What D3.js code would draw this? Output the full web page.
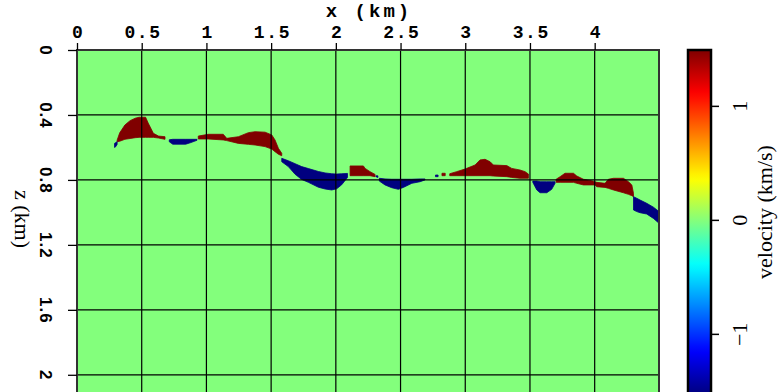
<!DOCTYPE html>
<html>
<head>
<meta charset="utf-8">
<script src="https://cdn.jsdelivr.net/npm/d3@7"></script>
<style>
  body { margin: 0; background: #fff; }
  svg { display: block; }
</style>
</head>
<body>
<div class="chart"></div>
<script>
// axis ticks (km) and colour bar ticks (km/s)
const xTicks = [0, 0.5, 1, 1.5, 2, 2.5, 3, 3.5, 4];
const zTicks = [0, 0.4, 0.8, 1.2, 1.6, 2];
const cbTicks = [-1, 0, 1];
const xRange = [0, 4.497];
const zRange = [0, 2.106];
const vRange = [-1.51, 1.49];
const background = 0;

// anomaly patches: [x, zTop, zBottom] in km
const patchA = [[0.31,0.555,0.565],[0.33,0.51,0.562],[0.37,0.462,0.55],[0.41,0.435,0.545],[0.45,0.42,0.54],[0.48,0.414,0.538],[0.53,0.414,0.538],[0.55,0.45,0.538],[0.59,0.513,0.538],[0.63,0.53,0.542],[0.68,0.534,0.55]];
const sliverA = [[0.29,0.575,0.60],[0.30,0.57,0.595],[0.31,0.565,0.58]];
const patchB = [[0.713,0.553,0.565],[0.74,0.55,0.58],[0.84,0.55,0.58],[0.88,0.55,0.57],[0.927,0.55,0.556]];
const patchC = [[0.937,0.53,0.548],[1.015,0.519,0.548],[1.13,0.519,0.554],[1.157,0.544,0.558],[1.247,0.534,0.575],[1.324,0.509,0.581],[1.376,0.503,0.585],[1.453,0.506,0.595],[1.505,0.523,0.61],[1.53,0.554,0.626],[1.556,0.605,0.642],[1.582,0.636,0.651]];
const patchD = [[1.582,0.667,0.688],[1.633,0.682,0.718],[1.685,0.7,0.765],[1.736,0.718,0.797],[1.788,0.73,0.815],[1.865,0.748,0.845],[1.917,0.757,0.856],[1.968,0.762,0.862],[2.006,0.764,0.855],[2.045,0.762,0.83],[2.09,0.76,0.785]];
const patchE = [[2.11,0.714,0.774],[2.213,0.714,0.774],[2.226,0.729,0.774],[2.264,0.749,0.774],[2.303,0.766,0.78]];
const dotE = [[2.31,0.775,0.78],[2.325,0.775,0.785]];
const patchF = [[2.336,0.79,0.807],[2.38,0.794,0.831],[2.432,0.796,0.848],[2.483,0.796,0.858],[2.522,0.796,0.846],[2.587,0.796,0.821],[2.651,0.794,0.811],[2.689,0.794,0.8]];
const dotF1 = [[2.77,0.77,0.78],[2.79,0.77,0.78]];
const dotF2 = [[2.82,0.759,0.774],[2.845,0.759,0.774]];
const patchG = [[2.88,0.762,0.774],[2.934,0.749,0.774],[2.998,0.733,0.774],[3.076,0.708,0.774],[3.114,0.677,0.774],[3.153,0.673,0.774],[3.192,0.688,0.774],[3.217,0.708,0.776],[3.321,0.712,0.78],[3.359,0.729,0.785],[3.423,0.739,0.79],[3.462,0.749,0.79],[3.488,0.764,0.79]];
const patchH = [[3.522,0.807,0.815],[3.553,0.807,0.862],[3.578,0.811,0.879],[3.63,0.811,0.879],[3.668,0.811,0.858],[3.694,0.811,0.821]];
const patchI = [[3.702,0.796,0.815],[3.733,0.78,0.815],[3.771,0.759,0.815],[3.836,0.759,0.815],[3.862,0.776,0.821],[3.913,0.796,0.831],[3.978,0.805,0.831],[4.003,0.811,0.831],[4.016,0.815,0.842],[4.08,0.821,0.846],[4.106,0.796,0.852],[4.145,0.79,0.862],[4.222,0.79,0.879],[4.261,0.811,0.889],[4.287,0.831,0.897],[4.3,0.883,0.903]];
const patchJ = [[4.3,0.903,0.985],[4.325,0.913,0.995],[4.351,0.924,1.002],[4.402,0.944,1.01],[4.454,0.968,1.037],[4.497,0.995,1.067]];

const patchList = [patchA, sliverA, patchB, patchC, patchD, patchE, dotE, patchF, dotF1, dotF2, patchG, patchH, patchI, patchJ];
const patchVel = [1.49, -1.51, -1.51, 1.49, -1.51, 1.49, -1.51, -1.51, -1.51, 1.49, 1.49, -1.51, 1.49, -1.51];

// jet colour map
function jet(t) {
  const c = v => Math.round(255 * Math.max(0, Math.min(1, v)));
  return d3.rgb(c(1.5 - Math.abs(4 * t - 3)), c(1.5 - Math.abs(4 * t - 2)), c(1.5 - Math.abs(4 * t - 1))).toString();
}

const W = 780, H = 392;
const margin = { top: 50, left: 77, right: 121, bottom: 0 };
const pw = W - margin.left - margin.right;
const ph = H - margin.top - margin.bottom;

const svg = d3.select('.chart').append('svg').attr('width', W).attr('height', H);

const x = d3.scaleLinear().domain(xRange).range([margin.left, margin.left + pw]);
const z = d3.scaleLinear().domain(zRange).range([margin.top, margin.top + ph]);
const color = d3.scaleSequential(jet).domain(vRange);

const mono = '"Liberation Mono", "DejaVu Sans Mono", monospace';
const sans = '"Liberation Sans", "DejaVu Sans", sans-serif';
const serif = '"Liberation Serif", "DejaVu Serif", serif';

svg.append('clipPath').attr('id', 'plot-clip')
  .append('rect').attr('x', x(xRange[0])).attr('y', z(zRange[0]))
  .attr('width', pw).attr('height', ph);

const g = svg.append('g').attr('clip-path', 'url(#plot-clip)');

g.append('rect')
  .attr('x', x(xRange[0])).attr('y', z(zRange[0]))
  .attr('width', pw).attr('height', ph)
  .attr('fill', color(background));

const area = d3.area()
  .x(function (d) { return x(d[0]); })
  .y0(function (d) { return z(d[1]); })
  .y1(function (d) { return z(d[2]); });

g.selectAll('.patch')
  .data(patchList)
  .enter().append('path')
  .attr('class', 'patch')
  .attr('d', area)
  .attr('fill', function (d, i) { return color(patchVel[i]); })
  .attr('stroke', function (d, i) { return color(patchVel[i]); })
  .attr('stroke-width', 0.8);

// grid
g.selectAll('.gx')
  .data(xTicks.filter(function (d) { return d > 0; }))
  .enter().append('line')
  .attr('x1', x).attr('x2', x)
  .attr('y1', z(zRange[0])).attr('y2', z(zRange[1]))
  .attr('stroke', '#000').attr('stroke-width', 1.2);

g.selectAll('.gz')
  .data(zTicks.filter(function (d) { return d > 0; }))
  .enter().append('line')
  .attr('y1', z).attr('y2', z)
  .attr('x1', x(xRange[0])).attr('x2', x(xRange[1]))
  .attr('stroke', '#000').attr('stroke-width', 1.2);

// frame
svg.append('rect')
  .attr('x', x(xRange[0])).attr('y', z(zRange[0]))
  .attr('width', pw).attr('height', ph + 2)
  .attr('fill', 'none').attr('stroke', '#333').attr('stroke-width', 2);

// top x axis
const xAxis = svg.append('g')
  .attr('transform', 'translate(0,' + margin.top + ')')
  .call(d3.axisTop(x).tickValues(xTicks).tickSize(7).tickPadding(5).tickFormat(d3.format('')));
xAxis.select('.domain').remove();
xAxis.selectAll('line').attr('stroke', '#000').attr('stroke-width', 1.3);
xAxis.selectAll('text')
  .attr('font-family', mono).attr('font-weight', 'bold')
  .attr('font-size', 18).attr('letter-spacing', 1.6)
  .attr('fill', '#000').attr('dx', 0.8);

svg.append('text')
  .attr('x', 369).attr('y', 17)
  .attr('text-anchor', 'middle')
  .attr('font-family', mono).attr('font-weight', 'bold')
  .attr('font-size', 19).attr('letter-spacing', 3)
  .text('x (km)');

// left z axis
const zAxis = svg.append('g')
  .attr('transform', 'translate(' + margin.left + ',0)')
  .call(d3.axisLeft(z).tickValues(zTicks).tickSize(9).tickFormat(d3.format('')));
zAxis.select('.domain').remove();
zAxis.selectAll('line').attr('stroke', '#000').attr('stroke-width', 1.3);
zAxis.selectAll('text')
  .attr('x', null).attr('dy', null)
  .attr('transform', 'translate(-37,0) rotate(90)')
  .attr('text-anchor', 'middle')
  .attr('font-family', sans).attr('font-weight', 'bold')
  .attr('font-size', 17).attr('letter-spacing', 1)
  .attr('fill', '#000');

svg.append('text')
  .attr('transform', 'translate(15,219) rotate(90)')
  .attr('text-anchor', 'middle')
  .attr('font-family', serif).attr('font-size', 22)
  .text('z (km)');

// colour bar
const cbX = 688, cbW = 23;
const v = d3.scaleLinear().domain(vRange).range([margin.top + ph, margin.top]);

const grad = svg.append('defs').append('linearGradient')
  .attr('id', 'cb-grad').attr('x1', 0).attr('x2', 0).attr('y1', 1).attr('y2', 0);
grad.selectAll('stop')
  .data(d3.range(0, 1.0001, 0.02))
  .enter().append('stop')
  .attr('offset', function (d) { return d; })
  .attr('stop-color', function (d) { return color(vRange[0] + d * (vRange[1] - vRange[0])); });

svg.append('rect')
  .attr('x', cbX).attr('y', v(vRange[1]))
  .attr('width', cbW).attr('height', v(vRange[0]) - v(vRange[1]) + 2)
  .attr('fill', 'url(#cb-grad)')
  .attr('stroke', '#000').attr('stroke-width', 2.5);

const cbAxis = svg.append('g')
  .attr('transform', 'translate(' + (cbX + cbW) + ',0)')
  .call(d3.axisRight(v).tickValues(cbTicks).tickSize(8).tickFormat(d3.format('')));
cbAxis.select('.domain').remove();
cbAxis.selectAll('line').attr('stroke', '#000').attr('stroke-width', 1.5);
cbAxis.selectAll('text')
  .attr('x', null).attr('dy', null)
  .attr('transform', 'translate(36,0) rotate(-90)')
  .attr('text-anchor', 'middle')
  .attr('font-family', serif).attr('font-size', 22).attr('fill', '#000');

svg.append('text')
  .attr('transform', 'translate(772,212) rotate(-90)')
  .attr('text-anchor', 'middle')
  .attr('font-family', serif).attr('font-size', 22)
  .text('velocity (km/s)');
</script>
</body>
</html>
